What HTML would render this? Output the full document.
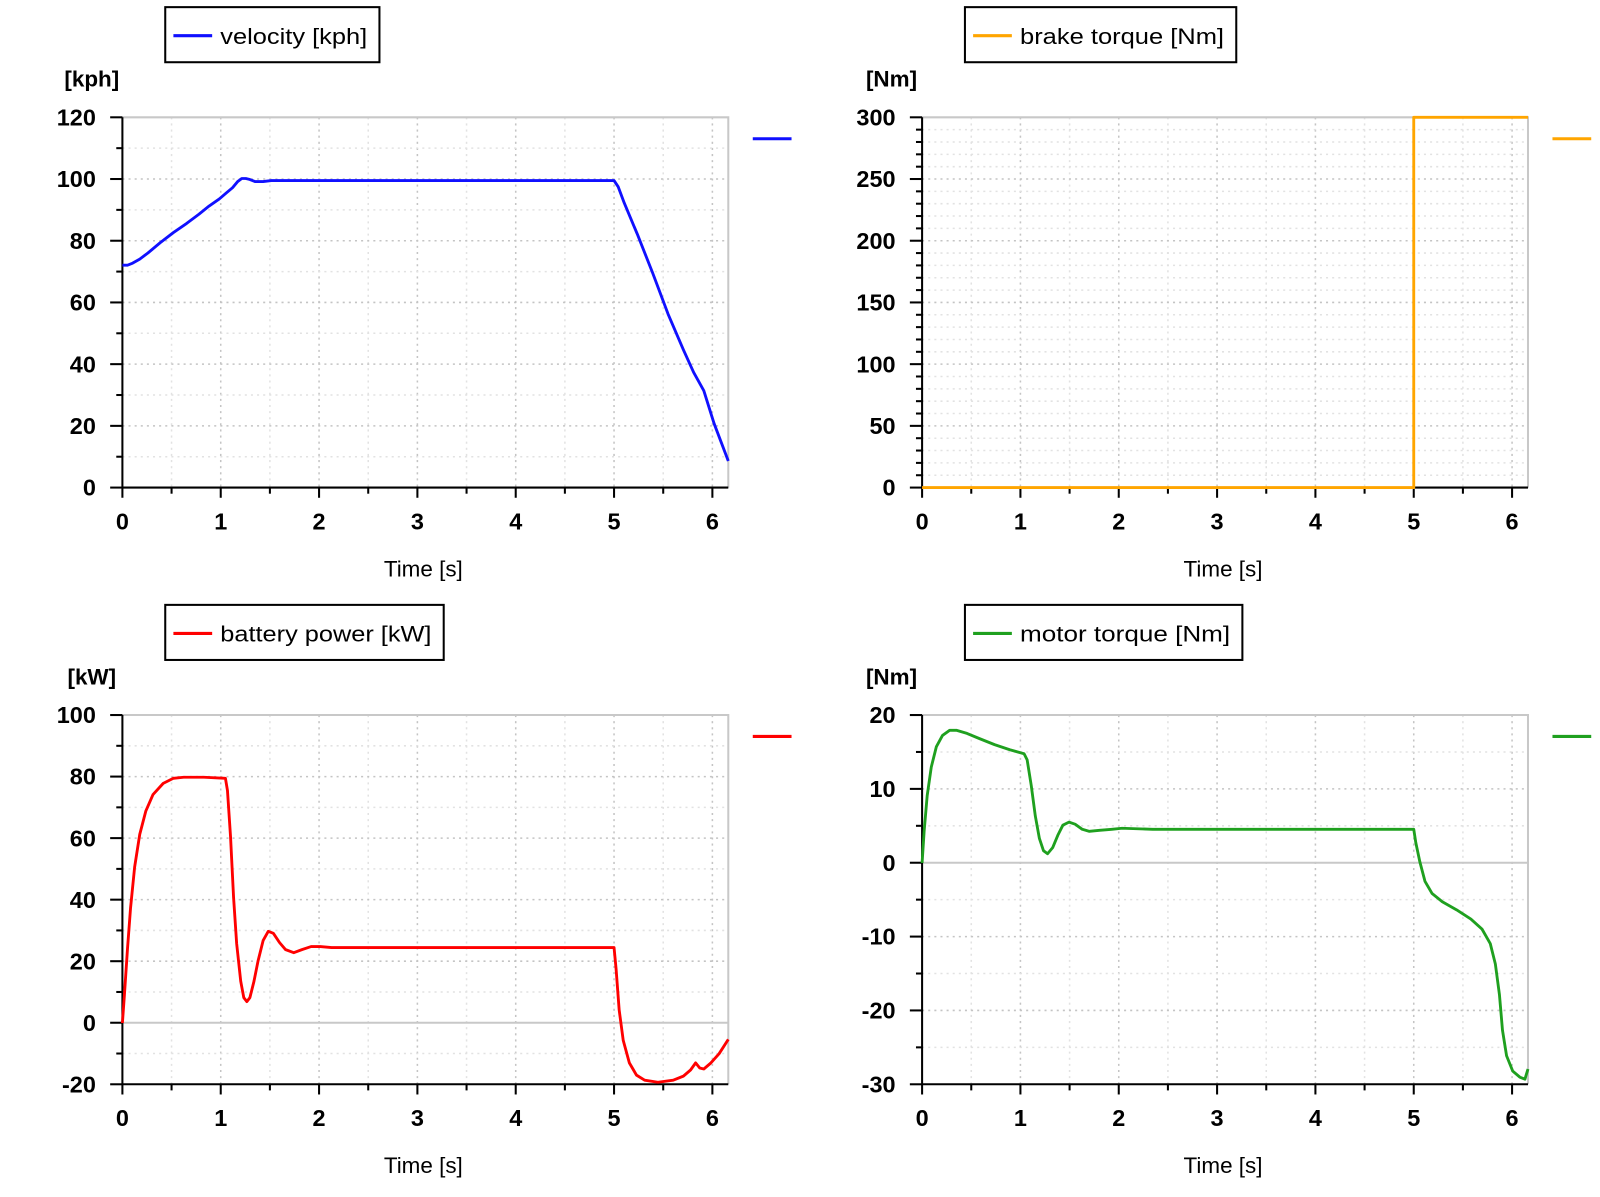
<!DOCTYPE html>
<html><head><meta charset="utf-8"><style>
html,body{margin:0;padding:0;background:#fff;}
svg{display:block;font-family:"Liberation Sans",sans-serif;}
</style></head><body>
<svg id="s" width="1600" height="1197" viewBox="0 0 1568.6 1173.5" xmlns="http://www.w3.org/2000/svg"></svg>
<script>
const s=document.getElementById('s');let h='';
function panel(o){
 const {x0,x1,yt,yb,vmin,vmax,maj,min,unit,color,label,lw,legW,zero}=o;
 const xs=96.4, Y=v=>yb-(v-vmin)/(vmax-vmin)*(yb-yt), X=t=>x0+t*xs;
 for(let t=0.5;X(t)<x1-1;t+=0.5){const m=Math.abs(t-Math.round(t))<1e-6;
  h+=`<line x1="${X(t)}" y1="${yt}" x2="${X(t)}" y2="${yb}" stroke="${m?'#c4c4c4':'#e2e2e2'}" stroke-width="1.5" stroke-dasharray="2,4"/>`;}
 for(let v=vmin+min;v<vmax;v+=min){const m=Math.abs(v/maj-Math.round(v/maj))<1e-6;
  if(zero&&v===0)continue;
  h+=`<line x1="${x0}" y1="${Y(v)}" x2="${x1}" y2="${Y(v)}" stroke="${m?'#c4c4c4':'#e2e2e2'}" stroke-width="1.5" stroke-dasharray="2,4"/>`;}
 if(zero)h+=`<line x1="${x0}" y1="${Y(0)}" x2="${x1}" y2="${Y(0)}" stroke="#c8c8c8" stroke-width="2"/>`;
 h+=`<polyline points="${x0},${yt} ${x1},${yt} ${x1},${yb}" fill="none" stroke="#c8c8c8" stroke-width="2"/>`;
 h+=`<line x1="${x0}" y1="${yt}" x2="${x0}" y2="${yb+10}" stroke="#000" stroke-width="2"/>`;
 h+=`<line x1="${x0}" y1="${yb}" x2="${x1}" y2="${yb}" stroke="#000" stroke-width="2"/>`;
 for(let v=vmin;v<=vmax+1e-6;v+=min){const m=Math.abs(v/maj-Math.round(v/maj))<1e-6;
  h+=`<line x1="${x0-(m?12:6)}" y1="${Y(v)}" x2="${x0}" y2="${Y(v)}" stroke="#000" stroke-width="2"/>`;
  if(m)h+=`<text x="${x0-26}" y="${Y(v)+8}" text-anchor="end" font-size="23" font-weight="bold">${Math.round(v)}</text>`;}
 for(let t=0.5;X(t)<x1;t+=0.5){const m=Math.abs(t-Math.round(t))<1e-6;
  h+=`<line x1="${X(t)}" y1="${yb}" x2="${X(t)}" y2="${yb+(m?10:6)}" stroke="#000" stroke-width="2"/>`;}
 for(let t=0;t<=6;t++)h+=`<text x="${X(t)}" y="${yb+41}" text-anchor="middle" font-size="23" font-weight="bold">${t}</text>`;
 h+=`<text x="${(x0+x1)/2-2}" y="${yb+87}" text-anchor="middle" font-size="22">Time [s]</text>`;
 h+=`<text x="${x0-30}" y="${yt-30}" text-anchor="middle" font-size="22" font-weight="bold">${unit}</text>`;
 const lx=x0+42, ly=yt-108;
 h+=`<rect x="${lx}" y="${ly}" width="${legW}" height="54" fill="#fff" stroke="#000" stroke-width="2"/>`;
 h+=`<line x1="${lx+8}" y1="${ly+28}" x2="${lx+46}" y2="${ly+28}" stroke="${color}" stroke-width="3"/>`;
 h+=`<text x="${lx+54}" y="${ly+36}" font-size="22" textLength="${legW-66}" lengthAdjust="spacingAndGlyphs">${label}</text>`;
 h+=`<line x1="${x1+24}" y1="${yt+21}" x2="${x1+62}" y2="${yt+21}" stroke="${color}" stroke-width="3"/>`;
 h+=`<polyline points="${o.pts}" fill="none" stroke="${color}" stroke-width="${lw||2.8}" stroke-linejoin="round"/>`;
}
panel({x0:120,x1:714,yt:115,yb:478,vmin:0,vmax:120,maj:20,min:10,unit:'[kph]',color:'#1010ff',label:'velocity [kph]',legW:210,
pts:'120,260 125,260 130,258 137,254 145,248 157,238 170,228 183,219 195,210 205,202 215,195 222,189 228,184 233,178 237,175 241,175 245,176 250,178 258,178 266,177 275,177 300,177 602,177 606,183 612,199 625,230 640,268 655,308 670,343 680,365 690,383 700,415 714,452'});
panel({x0:904,x1:1498,yt:115,yb:478,vmin:0,vmax:300,maj:50,min:10,unit:'[Nm]',color:'#ffa500',label:'brake torque [Nm]',legW:266,
pts:'904,478 1386,478 1386,115 1498,115'});
panel({x0:120,x1:714,yt:701,yb:1063,vmin:-20,vmax:100,maj:20,min:10,unit:'[kW]',color:'#ff0000',label:'battery power [kW]',legW:273,zero:1,
pts:'120,1003 122,975 125,930 128,890 132,850 137,818 143,795 150,779 160,768 170,763 180,762 200,762 221,763 223,775 226,820 229,880 232,925 236,962 239,978 242,982 245,978 249,962 253,942 258,922 263,913 268,915 274,924 280,931 288,934 296,931 305,928 314,928 325,929 360,929 602,929 604,950 607,990 611,1020 617,1042 624,1054 632,1059 645,1061 660,1059 670,1055 677,1049 682,1042 686,1047 690,1048 697,1042 705,1033 714,1019'});
panel({x0:904,x1:1498,yt:701,yb:1063,vmin:-30,vmax:20,maj:10,min:5,unit:'[Nm]',color:'#1fa01f',label:'motor torque [Nm]',legW:272,zero:1,
pts:'904,846 906,815 909,780 913,752 918,732 924,721 931,716 938,716 948,719 960,724 975,730 990,735 1004,739 1007,745 1011,770 1015,800 1019,822 1023,834 1027,837 1032,831 1037,819 1042,809 1048,806 1054,808 1061,813 1068,815 1078,814 1090,813 1100,812 1130,813 1386,813 1388,826 1392,845 1397,864 1404,876 1414,884 1428,892 1442,901 1453,911 1461,925 1466,945 1470,975 1473,1010 1477,1035 1483,1050 1490,1056 1495,1058 1498,1048'});
s.innerHTML=h;
</script>
</body></html>
